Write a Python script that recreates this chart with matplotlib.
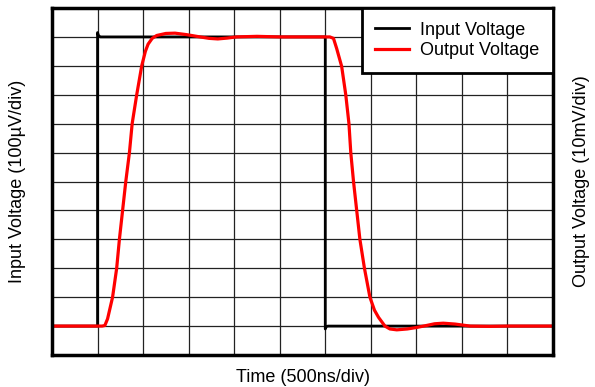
import matplotlib.pyplot as plt

plt.rcParams['font.family'] = ['Liberation Sans', 'DejaVu Sans']

# time in divisions (500ns/div), voltages in divisions
in_t = [0, 1.0, 1.0, 1.02, 1.06, 6.0, 6.0, 6.02, 6.06, 11]
in_v = [1, 1, 11.15, 11.05, 11.0, 11.0, 0.9, 0.98, 1.0, 1.0]

out_t = [0, 1.1, 1.16, 1.22, 1.33, 1.42, 1.48, 1.55, 1.62, 1.70, 1.76, 1.86,
         1.97, 2.05, 2.11, 2.2, 2.3, 2.5, 2.7, 2.95, 3.25, 3.45, 3.64, 3.85,
         4.05, 4.5, 5.0, 5.5, 6.1, 6.18, 6.25, 6.36, 6.45, 6.52, 6.56, 6.62,
         6.69, 6.76, 6.86, 6.98, 7.08, 7.17, 7.31, 7.42, 7.57, 7.8, 8.0, 8.22,
         8.4, 8.59, 8.85, 9.18, 9.6, 10.0, 10.5, 11.0]
out_v = [1, 1, 1.02, 1.25, 2.0, 3.0, 4.0, 5.0, 6.0, 7.0, 8.0, 9.0,
         10.0, 10.5, 10.75, 10.95, 11.05, 11.12, 11.13, 11.08, 11.0, 10.95, 10.93, 10.96,
         11.0, 11.02, 11.0, 11.0, 11.0, 10.95, 10.6, 9.98, 9.0, 8.0, 7.0, 6.0,
         5.0, 4.0, 3.0, 2.0, 1.55, 1.3, 1.0, 0.9, 0.87, 0.9, 0.95, 1.02,
         1.08, 1.1, 1.07, 1.0, 0.99, 1.0, 1.0, 1.0]

fig = plt.figure(figsize=(5.95, 3.87), dpi=100)
ax = fig.add_axes([52/595, 1-355/387, 501/595, 347/387])

ax.plot(in_t, in_v, color='black', lw=2.0, label='Input Voltage')
ax.plot(out_t, out_v, color='red', lw=2.3, label='Output Voltage')

ax.set_xlim(0, 11)
ax.set_ylim(0, 12)
ax.set_xticks(range(12))
ax.set_yticks(range(13))
ax.tick_params(length=0, labelbottom=False, labelleft=False)
ax.grid(True, color='#222222', lw=0.9)
for s in ax.spines.values():
    s.set_linewidth(2.5)

leg = ax.legend(loc='upper right', borderaxespad=0, fancybox=False, framealpha=1,
                fontsize=13, handlelength=1.9, handletextpad=0.6, labelspacing=0.2,
                borderpad=0.75, edgecolor='black')
leg.get_frame().set_linewidth(2)

fig.text(303/595, 1-377/387, 'Time (500ns/div)', ha='center', va='center', fontsize=13)
fig.text(18/595, 1-181/387, 'Input Voltage (100\u00b5V/div)', ha='center', va='center',
         rotation=90, fontsize=13)
fig.text(581/595, 1-181/387, 'Output Voltage (10mV/div)', ha='center', va='center',
         rotation=90, fontsize=13)

plt.savefig('out.png')
